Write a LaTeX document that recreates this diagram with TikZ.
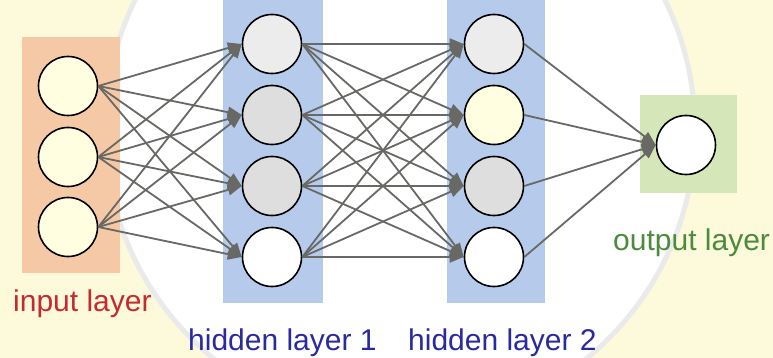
\documentclass[tikz,border=0pt]{standalone}
\usepackage{fontspec}
\setmainfont{Liberation Sans}
\usetikzlibrary{arrows.meta}

\definecolor{sealyellow}{HTML}{FDFADC}
\definecolor{sealgray}{HTML}{EAEAEA}
\definecolor{inputfill}{HTML}{F5C9A5}
\definecolor{hiddenfill}{HTML}{B6CBEC}
\definecolor{outputfill}{HTML}{D5E7B9}
\definecolor{inred}{HTML}{C62A2F}
\definecolor{hidblue}{HTML}{2A2A9E}
\definecolor{outgreen}{HTML}{4B8B3B}
\definecolor{wiregray}{HTML}{686864}
\definecolor{paleyellow}{HTML}{FFFEE0}
\definecolor{lightgray}{HTML}{DEDEDE}
\definecolor{softgray}{HTML}{ECECEC}

\tikzset{
  neuron/.style={circle, draw=black, line width=1.6pt, minimum size=59pt, inner sep=0pt},
  wire/.style={draw=wiregray, line width=1.8pt, -{Triangle[length=14pt,width=11pt]}},
  layerlabel/.style={font=\fontsize{30}{36}\selectfont, inner sep=0pt, anchor=base west}
}

\begin{document}
\begin{tikzpicture}[x=1pt,y=-1pt]
\useasboundingbox (0,0) rectangle (773,358);

% faint seal in the background
\begin{scope}
  \clip (0,0) rectangle (773,358);
  \fill[sealyellow] (0,0) rectangle (773,358);
  \fill[white] (400,130) circle[radius=295];
  \draw[sealgray, line width=5pt] (400,130) circle[radius=295];
\end{scope}

% layer backgrounds
\fill[inputfill]  (22,37)  rectangle (120,273);
\fill[hiddenfill] (223,0)  rectangle (323,303);
\fill[hiddenfill] (447,0)  rectangle (545,303);
\fill[outputfill] (640,95) rectangle (737,193);

% input layer
\node[neuron, fill=paleyellow] (i1) at (68,86)  {};
\node[neuron, fill=paleyellow] (i2) at (68,157) {};
\node[neuron, fill=paleyellow] (i3) at (68,227) {};

% hidden layer 1
\node[neuron, fill=softgray]  (a1) at (272,44)  {};
\node[neuron, fill=lightgray] (a2) at (272,115) {};
\node[neuron, fill=lightgray] (a3) at (272,186) {};
\node[neuron, fill=white]     (a4) at (272,257) {};

% hidden layer 2
\node[neuron, fill=softgray]   (b1) at (494,44)  {};
\node[neuron, fill=paleyellow] (b2) at (494,115) {};
\node[neuron, fill=lightgray]  (b3) at (494,186) {};
\node[neuron, fill=white]      (b4) at (494,257) {};

% output layer
\node[neuron, fill=white] (o) at (686,145) {};

% connections
\foreach \s in {i1,i2,i3}
  \foreach \t in {a1,a2,a3,a4}
    \draw[wire] (\s.east) -- (\t.west);
\foreach \s in {a1,a2,a3,a4}
  \foreach \t in {b1,b2,b3,b4}
    \draw[wire] (\s.east) -- (\t.west);
\foreach \s in {b1,b2,b3,b4}
  \draw[wire] (\s.east) -- (o.west);

% labels
\node[layerlabel, text=inred]    (lin)  at (13,311)  {input layer};
\node[layerlabel, text=hidblue]  (lh1)  at (188,350) {hidden layer 1};
\node[layerlabel, text=hidblue]  (lh2)  at (408,350) {hidden layer 2};
\node[layerlabel, text=outgreen] (lout) at (613,250) {output layer};
\end{tikzpicture}
\end{document}
